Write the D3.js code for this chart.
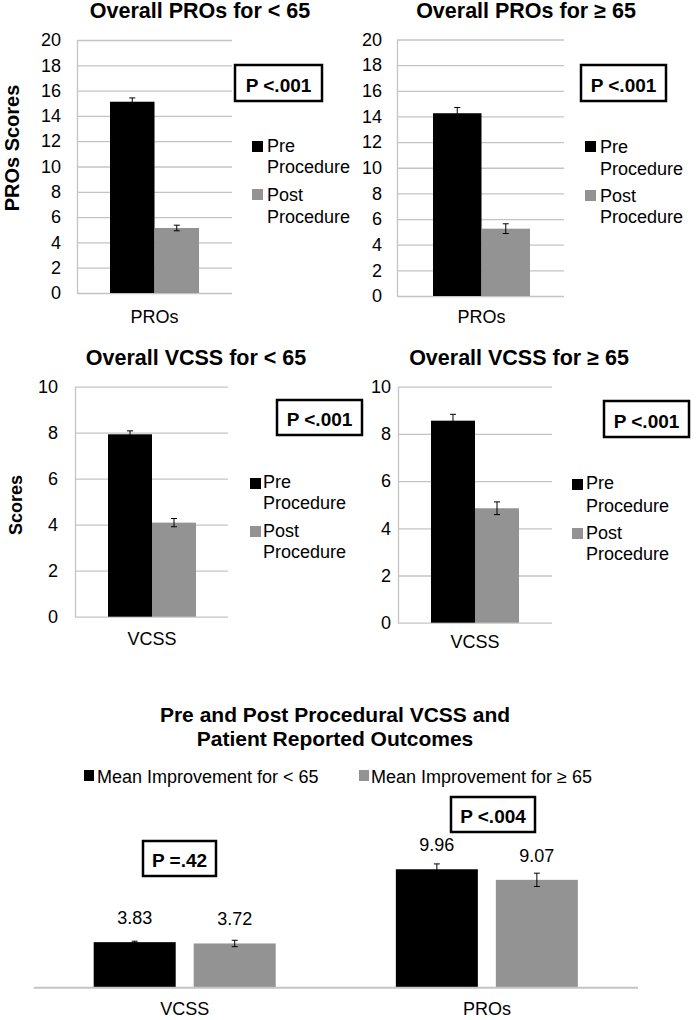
<!DOCTYPE html>
<html><head><meta charset="utf-8">
<script src="https://cdn.jsdelivr.net/npm/d3@7"></script>
<style>
body{margin:0;background:#fff}
svg{display:block}
text{font-family:"Liberation Sans",Arial,Helvetica,sans-serif;fill:#000}
</style>
</head><body>
<svg id="chart" width="698" height="1020"></svg>
<script>
// ---------------- DATA ----------------
const phases = ["Pre Procedure", "Post Procedure"];
const phaseLegendLines = [["Pre", "Procedure"], ["Post", "Procedure"]];

const prosUnder65 = [15.12, 5.14];
const prosUnder65Err = [0.30, 0.22];
const prosOver65 = [14.25, 5.25];
const prosOver65Err = [0.45, 0.38];

const vcssUnder65 = [7.93, 4.09];
const vcssUnder65Err = [0.15, 0.18];
const vcssOver65 = [8.56, 4.85];
const vcssOver65Err = [0.27, 0.27];

const prosTicks = [0, 2, 4, 6, 8, 10, 12, 14, 16, 18, 20];
const vcssTicks = [0, 2, 4, 6, 8, 10];

const panelTitles = ["Overall PROs for < 65", "Overall PROs for \u2265 65", "Overall VCSS for < 65", "Overall VCSS for \u2265 65"];
const panelCategories = ["PROs", "PROs", "VCSS", "VCSS"];
const panelAxisTitles = ["PROs Scores", "", "Scores", ""];
const panelPValues = ["P <.001", "P <.001", "P <.001", "P <.001"];

const improvementCategories = ["VCSS", "PROs"];
const improvementGroups = ["Mean Improvement for < 65", "Mean Improvement for \u2265 65"];
const improvementUnder65 = [3.83, 9.96];
const improvementUnder65Err = [0.08, 0.45];
const improvementOver65 = [3.72, 9.07];
const improvementOver65Err = [0.27, 0.56];
const improvementPValues = ["P =.42", "P <.004"];
const improvementTitle = ["Pre and Post Procedural VCSS and", "Patient Reported Outcomes"];

// ---------------- STYLE / LAYOUT ----------------
const colors = ["#000000", "#939393"];
const gridColor = "#c4c4c4";
const svg = d3.select("#chart");

const panelLayouts = [
  {max: 20, ticks: prosTicks, values: prosUnder65, errs: prosUnder65Err,
   plotX0: 77, plotX1: 232, yTop: 40, yBottom: 293, barX0: 110, barX1: 199,
   tickPad: 16, titleX: 200, titleY: 18, catY: 323,
   axisTitleX: 19, axisTitleY: 148, axisTitleSize: 20,
   box: [235, 65, 87, 36], boxTextY: 92,
   legX: 252, legTextX: 267, legSqTop: [141, 189], legBase: [[152, 173], [201, 223]]},
  {max: 20, ticks: prosTicks, values: prosOver65, errs: prosOver65Err,
   plotX0: 397, plotX1: 564, yTop: 39.5, yBottom: 296, barX0: 433, barX1: 530,
   tickPad: 15, titleX: 526, titleY: 18, catY: 323,
   box: [581, 65, 85, 36], boxTextY: 92,
   legX: 585, legTextX: 600, legSqTop: [141, 190], legBase: [[153, 175], [202, 223]]},
  {max: 10, ticks: vcssTicks, values: vcssUnder65, errs: vcssUnder65Err,
   plotX0: 75, plotX1: 228, yTop: 386.7, yBottom: 616.7, barX0: 108, barX1: 196,
   tickPad: 17, titleX: 196, titleY: 365, catY: 645,
   axisTitleX: 22, axisTitleY: 505, axisTitleSize: 18,
   box: [277, 400, 85, 35], boxTextY: 426,
   legX: 250, legTextX: 263, legSqTop: [478, 526], legBase: [[488, 509], [537, 558]]},
  {max: 10, ticks: vcssTicks, values: vcssOver65, errs: vcssOver65Err,
   plotX0: 398, plotX1: 552, yTop: 386.7, yBottom: 622.7, barX0: 431, barX1: 519,
   tickPad: 7, titleX: 519, titleY: 365, catY: 648,
   box: [604, 401, 85, 36], boxTextY: 428,
   legX: 572, legTextX: 586, legSqTop: [479, 528], legBase: [[489, 512], [539, 560]]}
];

function errorBar(g, cx, yHi, yLo, cap) {
  g.append("line").attr("x1", cx).attr("x2", cx).attr("y1", yHi).attr("y2", yLo)
    .attr("stroke", "#000").attr("stroke-width", 1);
  [yHi, yLo].forEach(yy => g.append("line").attr("x1", cx - cap).attr("x2", cx + cap)
    .attr("y1", yy).attr("y2", yy).attr("stroke", "#000").attr("stroke-width", 1));
}

function pBox(g, box, textY, label) {
  g.append("rect").attr("x", box[0]).attr("y", box[1]).attr("width", box[2]).attr("height", box[3])
    .attr("fill", "#fff").attr("stroke", "#000").attr("stroke-width", 2.5);
  g.append("text").attr("x", box[0] + box[2] / 2).attr("y", textY).attr("text-anchor", "middle")
    .attr("font-size", 19).attr("font-weight", "bold").text(label);
}

panelLayouts.forEach((L, i) => {
  const g = svg.append("g");
  const y = d3.scaleLinear().domain([0, L.max]).range([L.yBottom, L.yTop]);
  const x = d3.scaleBand().domain(phases).range([L.barX0, L.barX1]).padding(0);

  const axis = g.append("g").attr("transform", `translate(${L.plotX0},0)`)
    .call(d3.axisLeft(y).tickValues(L.ticks).tickFormat(d3.format("d"))
      .tickSize(-(L.plotX1 - L.plotX0)).tickSizeOuter(0).tickPadding(L.tickPad));
  axis.select(".domain").attr("stroke", gridColor).attr("stroke-width", 1.3);
  axis.selectAll(".tick line").attr("stroke", gridColor).attr("stroke-width", 1.3);
  axis.selectAll(".tick text").attr("font-size", 18).attr("fill", "#000")
    .attr("font-family", "'Liberation Sans',Arial,sans-serif");

  phases.forEach((p, j) => {
    g.append("rect").attr("x", x(p)).attr("y", y(L.values[j]))
      .attr("width", x.bandwidth()).attr("height", y(0) - y(L.values[j]))
      .attr("fill", colors[j]);
    errorBar(g, x(p) + x.bandwidth() / 2, y(L.values[j] + L.errs[j]), y(L.values[j] - L.errs[j]), 3);
  });

  g.append("text").attr("x", L.titleX).attr("y", L.titleY).attr("text-anchor", "middle")
    .attr("font-size", 21.5).attr("font-weight", "bold").text(panelTitles[i]);

  g.append("text").attr("x", (L.barX0 + L.barX1) / 2).attr("y", L.catY).attr("text-anchor", "middle")
    .attr("font-size", 18).text(panelCategories[i]);

  if (panelAxisTitles[i]) {
    g.append("text").attr("transform", `translate(${L.axisTitleX},${L.axisTitleY}) rotate(-90)`)
      .attr("text-anchor", "middle").attr("font-size", L.axisTitleSize).attr("font-weight", "bold")
      .text(panelAxisTitles[i]);
  }

  pBox(g, L.box, L.boxTextY, panelPValues[i]);

  phases.forEach((p, j) => {
    g.append("rect").attr("x", L.legX).attr("y", L.legSqTop[j]).attr("width", 11).attr("height", 11)
      .attr("fill", colors[j]);
    phaseLegendLines[j].forEach((t, k) => {
      g.append("text").attr("x", L.legTextX).attr("y", L.legBase[j][k]).attr("font-size", 18).text(t);
    });
  });
});

// ---------------- BOTTOM CHART ----------------
(function () {
  const g = svg.append("g");
  const axisX0 = 33.7, axisX1 = 638, base = 987.7;
  const x0 = d3.scaleBand().domain(improvementCategories).range([axisX0, axisX1]).padding(0);
  const x1 = d3.scaleBand().domain(improvementGroups).range([60, 242]).paddingInner(0.18).paddingOuter(0);
  const y = d3.scaleLinear().domain([0, 12]).range([base, base - 142.7]);
  const series = [improvementUnder65, improvementOver65];
  const seriesErr = [improvementUnder65Err, improvementOver65Err];

  improvementTitle.forEach((t, k) => {
    g.append("text").attr("x", 335).attr("y", 722 + k * 23.5).attr("text-anchor", "middle")
      .attr("font-size", 21).attr("font-weight", "bold").text(t);
  });

  const legPos = [[84, 97], [359, 371]];
  improvementGroups.forEach((grp, j) => {
    g.append("rect").attr("x", legPos[j][0]).attr("y", 770).attr("width", 10).attr("height", 11)
      .attr("fill", colors[j]);
    g.append("text").attr("x", legPos[j][1]).attr("y", 783).attr("font-size", 18).text(grp);
  });

  improvementCategories.forEach((c, i) => {
    improvementGroups.forEach((grp, j) => {
      const v = series[j][i], e = seriesErr[j][i];
      const bx = x0(c) + x1(grp);
      g.append("rect").attr("x", bx).attr("y", y(v)).attr("width", x1.bandwidth())
        .attr("height", y(0) - y(v)).attr("fill", colors[j]);
      errorBar(g, bx + x1.bandwidth() / 2, y(v + e), y(v - e), 3);
      g.append("text").attr("x", bx + x1.bandwidth() / 2).attr("y", y(v) - 18)
        .attr("text-anchor", "middle").attr("font-size", 18).text(v.toFixed(2));
    });
    g.append("text").attr("x", x0(c) + x0.bandwidth() / 2).attr("y", 1015)
      .attr("text-anchor", "middle").attr("font-size", 18).text(c);
  });

  g.append("line").attr("x1", axisX0).attr("x2", axisX1).attr("y1", base).attr("y2", base)
    .attr("stroke", gridColor).attr("stroke-width", 2);

  const boxes = [[143, 841, 73, 35], [451, 797, 84, 35]];
  const boxTextY = [867, 823];
  improvementPValues.forEach((p, i) => pBox(g, boxes[i], boxTextY[i], p));
})();
</script>
</body></html>
